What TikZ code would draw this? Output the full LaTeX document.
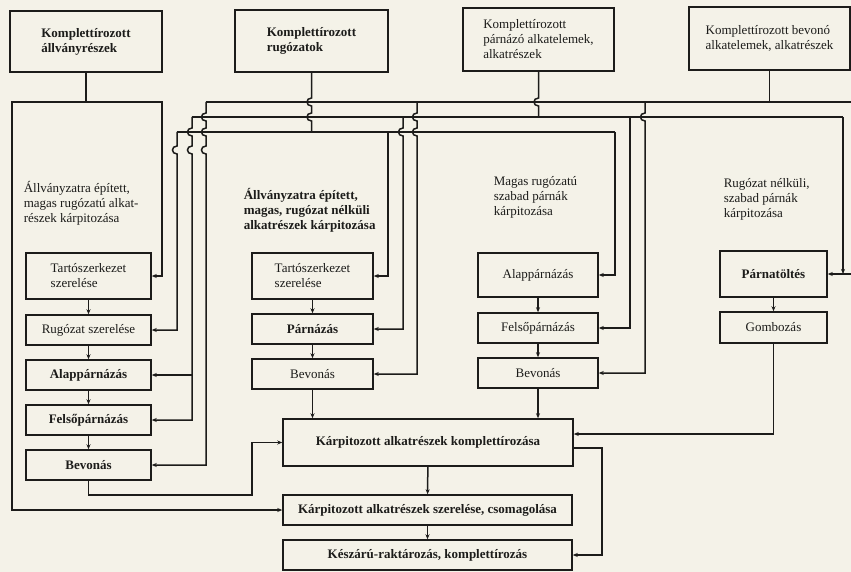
\documentclass[tikz,border=0pt]{standalone}
\usepackage{fontspec}
\setmainfont{Liberation Serif}
\usetikzlibrary{arrows.meta}
\definecolor{paper}{RGB}{244,242,232}
\definecolor{ink}{RGB}{28,28,26}
\newcommand\txtsize{\fontsize{13}{15}\selectfont}
% a small leftward jump where a vertical line crosses a horizontal one at height #2
\newcommand\hopv[2]{-- (#1,#2-4) .. controls +(-6,0) and +(-6,0) .. (#1,#2+4)}
\begin{document}
\begin{tikzpicture}[x=1pt,y=-1pt,line width=1.5pt,color=ink,
  box/.style={draw=ink,rectangle,inner sep=0pt,align=left,text=ink,font=\txtsize},
  bbox/.style={box,font=\txtsize\bfseries},
  lbl/.style={anchor=north west,inner sep=0pt,align=left,text=ink,font=\txtsize},
  arr/.style={-{Stealth[length=5pt,width=4pt]}}]
\fill[paper] (0,0) rectangle (851,572);
\useasboundingbox (0,0) rectangle (851,572);

% supply boxes
\node[bbox,minimum width=152,minimum height=61] (t1) at (86,41.5) {Komplettírozott\\állványrészek};
\node[bbox,minimum width=153,minimum height=62] (t2) at (311.5,41) {Komplettírozott\\rugózatok};
\node[box,minimum width=151,minimum height=63] (t3) at (538.5,39.5) {Komplettírozott\\párnázó alkatelemek,\\alkatrészek};
\node[box,minimum width=161,minimum height=63] (t4) at (769.5,38.5) {Komplettírozott bevonó\\alkatelemek, alkatrészek};

% column headings
\node[lbl] (l1) at (23,181) {Állványzatra épített,\\magas rugózatú alkat-\\részek kárpitozása};
\node[lbl,font=\txtsize\bfseries] (l2) at (243,188) {Állványzatra épített,\\magas, rugózat nélküli\\alkatrészek kárpitozása};
\node[lbl] (l3) at (493,176) {Magas rugózatú\\szabad párnák\\kárpitozása};
\node[lbl] (l4) at (723,178) {Rugózat nélküli,\\szabad párnák\\kárpitozása};

% column 1
\node[box,minimum width=125,minimum height=46] (a1) at (88.5,276) {Tartószerkezet\\szerelése};
\node[box,minimum width=125,minimum height=30] (a2) at (88.5,330) {Rugózat szerelése};
\node[bbox,minimum width=125,minimum height=30] (a3) at (88.5,375) {Alappárnázás};
\node[bbox,minimum width=125,minimum height=30] (a4) at (88.5,420) {Felsőpárnázás};
\node[bbox,minimum width=125,minimum height=30] (a5) at (88.5,465) {Bevonás};
% column 2
\node[box,minimum width=121,minimum height=46] (b1) at (312.5,276) {Tartószerkezet\\szerelése};
\node[bbox,minimum width=121,minimum height=30] (b2) at (312.5,329) {Párnázás};
\node[box,minimum width=121,minimum height=30] (b3) at (312.5,374) {Bevonás};
% column 3
\node[box,minimum width=120,minimum height=44] (c1) at (538,275) {Alappárnázás};
\node[box,minimum width=120,minimum height=30] (c2) at (538,328) {Felsőpárnázás};
\node[box,minimum width=120,minimum height=30] (c3) at (538,373) {Bevonás};
% column 4
\node[bbox,minimum width=107,minimum height=46] (d1) at (773.5,274) {Párnatöltés};
\node[box,minimum width=107,minimum height=31] (d2) at (773.5,327.5) {Gombozás};
% final stages
\node[bbox,minimum width=290,minimum height=47] (k1) at (428,442.5) {Kárpitozott alkatrészek komplettírozása};
\node[bbox,minimum width=289,minimum height=30] (k2) at (427.5,510) {Kárpitozott alkatrészek szerelése, csomagolása};
\node[bbox,minimum width=289,minimum height=30] (k3) at (427.5,555) {Készárú-raktározás, komplettírozás};

% frame parts supply
\coordinate (f0) at (86,102);
\draw[arr] (t1.south) -- (f0) -- (12,102) |- (k2.west);
\draw[arr] (f0) -- (162,102) |- (a1.east);

% distribution lines: coverings (A), padding (B), springs (C)
\coordinate (bA) at (206,102);
\coordinate (bB) at (192,117);
\coordinate (bC) at (177,132);
\draw (bA) -- (858,102);
\draw (bB) -- (843,117);
\draw (bC) -- (615,132);

% feeds from supply boxes
\draw (t2.south) \hopv{311.5}{102} \hopv{311.5}{117} -- (311.5,132);
\draw (t3.south) \hopv{538.5}{102} -- (538.5,117);
\draw (t4.south) -- (769.5,102);

% column 1 feeds
\draw[arr] (bC) \hopv{177}{150} |- (a2.east);
\draw[arr] (bB) \hopv{192}{132} \hopv{192}{150} |- (a4.east);
\coordinate (j1) at (192,375);
\draw[arr] (j1) -- (a3.east);
\draw[arr] (bA) \hopv{206}{117} \hopv{206}{132} \hopv{206}{150} |- (a5.east);

% column 2 feeds
\draw[arr] (388,132) |- (b1.east);
\draw[arr] (403,117) \hopv{403}{132} |- (b2.east);
\draw[arr] (417,102) \hopv{417}{117} \hopv{417}{132} |- (b3.east);

% column 3 feeds
\draw[arr] (615,132) |- (c1.east);
\draw[arr] (630,117) |- (c2.east);
\draw[arr] (645,102) \hopv{645}{117} |- (c3.east);

% column 4 feeds
\coordinate (j4) at (843,274);
\draw[arr] (843,117) -- (j4);
\draw[arr] (858,102) |- (d1.east);

% steps within the columns
\draw[arr] (a1) -- (a2);
\draw[arr] (a2) -- (a3);
\draw[arr] (a3) -- (a4);
\draw[arr] (a4) -- (a5);
\draw[arr] (b1) -- (b2);
\draw[arr] (b2) -- (b3);
\draw[arr] (c1) -- (c2);
\draw[arr] (c2) -- (c3);
\draw[arr] (d1) -- (d2);

% into the final stages
\draw[arr] (a5.south) -- (88.5,495) -- (252,495) |- (k1.west);
\draw[arr] (b3.south) -- (b3.south |- k1.north);
\draw[arr] (c3.south) -- (c3.south |- k1.north);
\draw[arr] (d2.south) |- ([yshift=8.5pt]k1.east);
\draw[arr] ([yshift=-5.5pt]k1.east) -- (602,448) |- (k3.east);
\draw[arr] (k1) -- (k2);
\draw[arr] (k2) -- (k3);
\end{tikzpicture}
\end{document}
